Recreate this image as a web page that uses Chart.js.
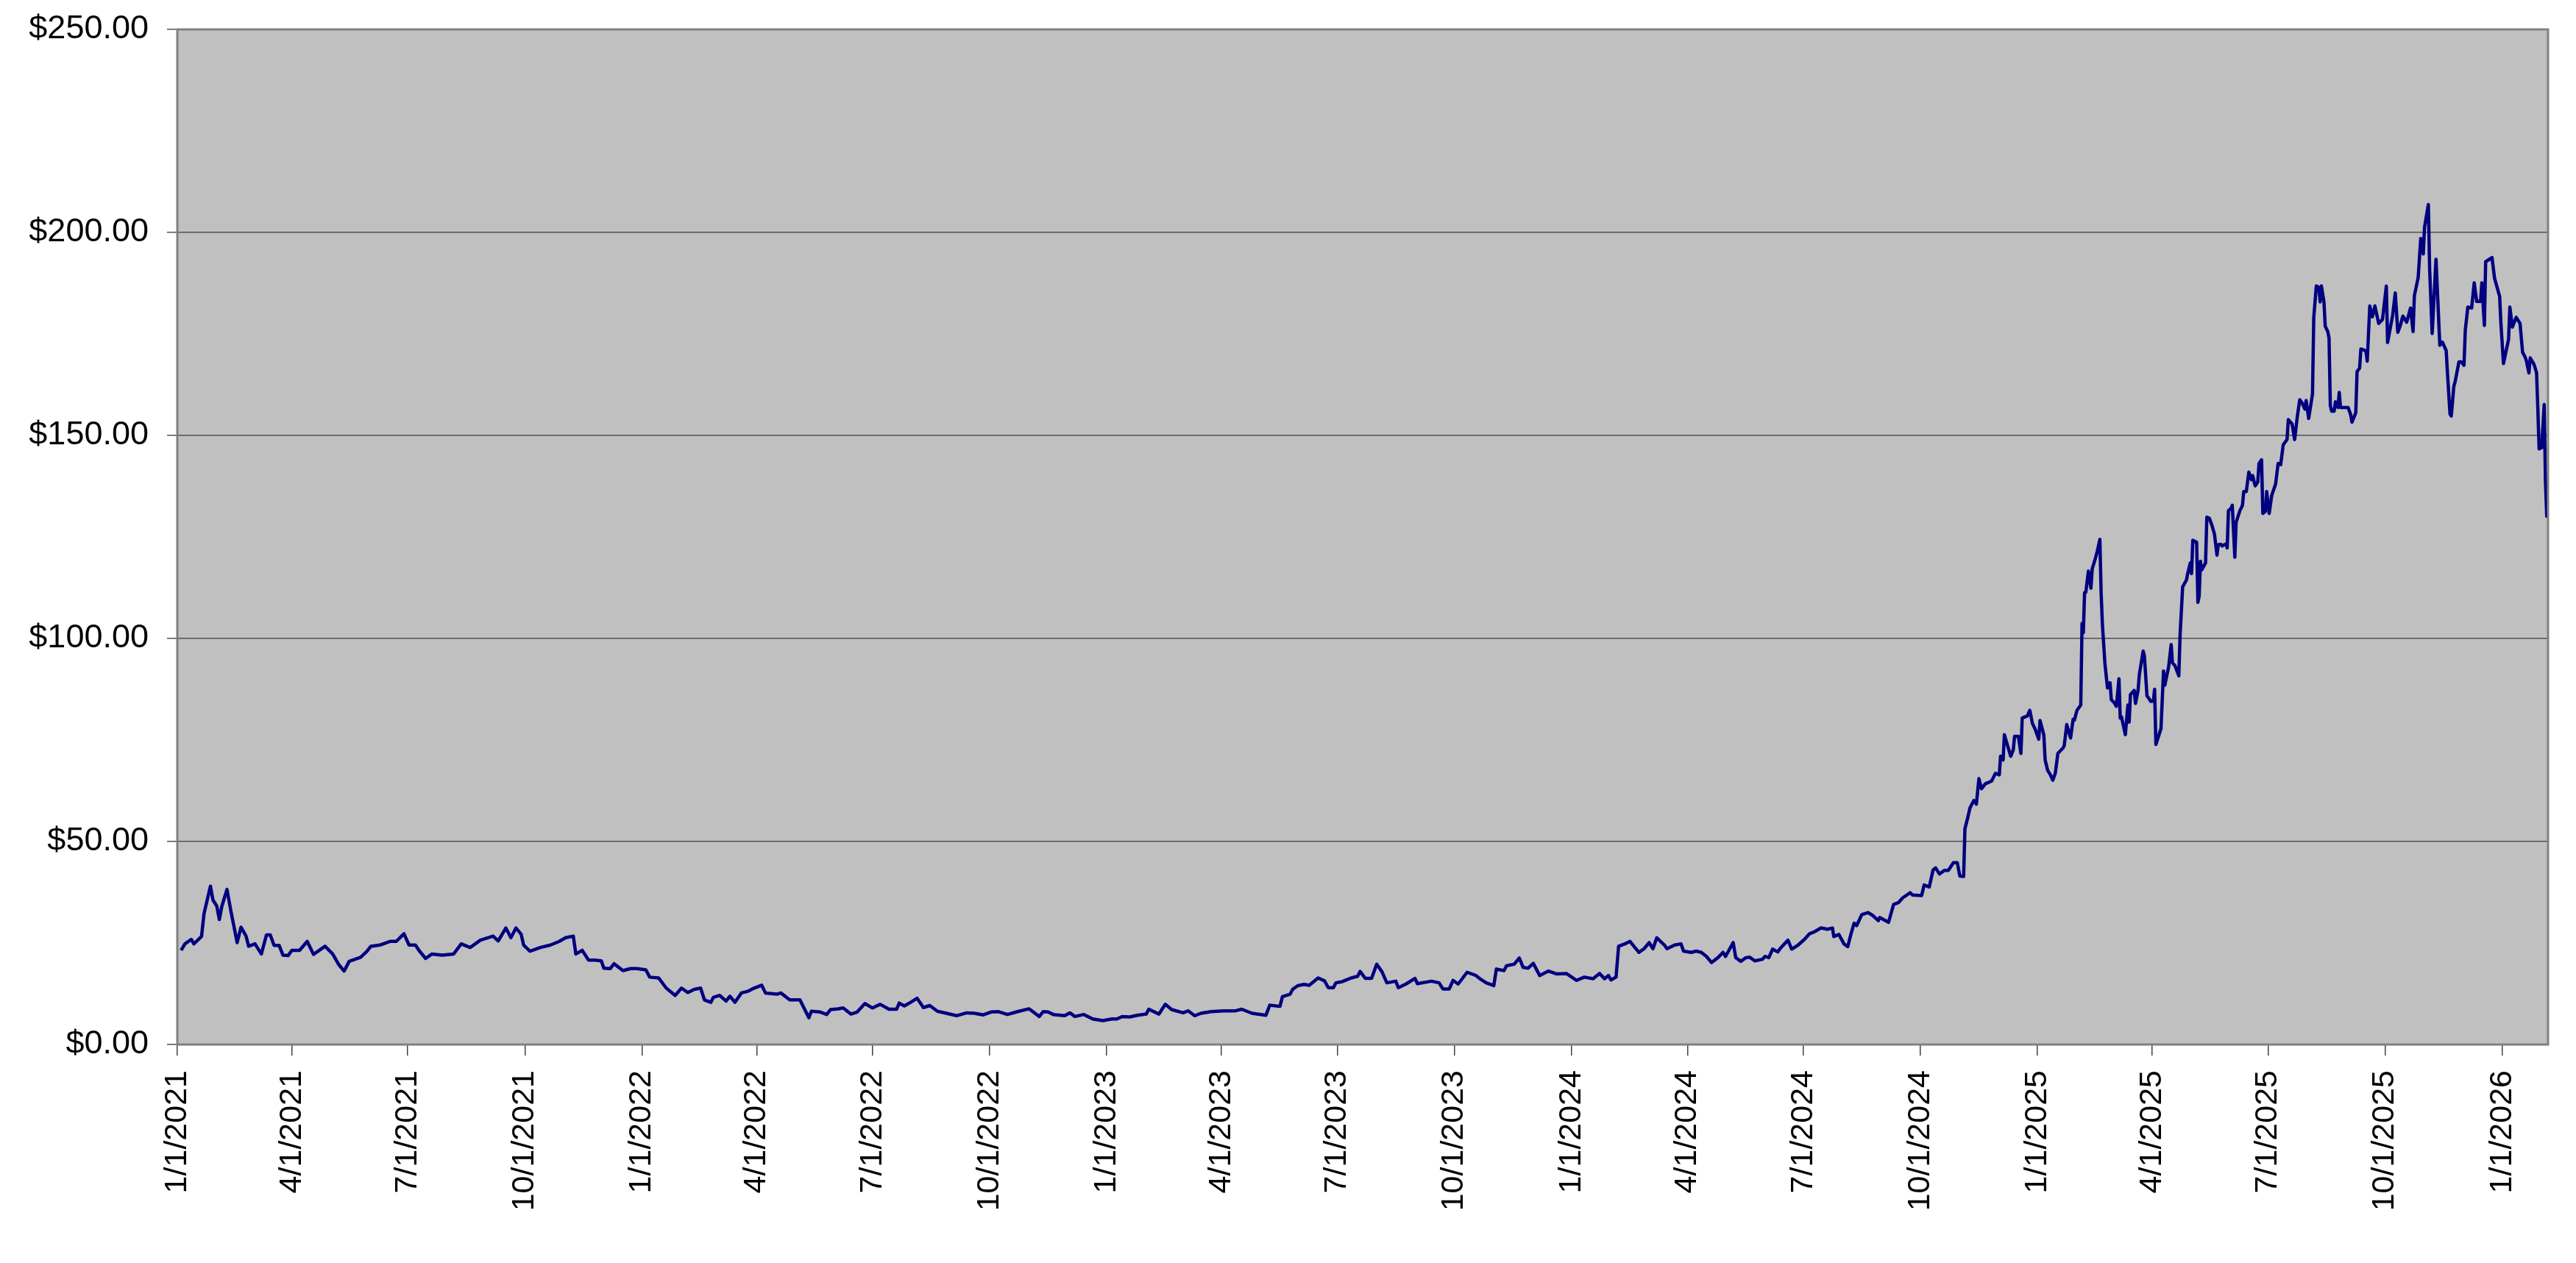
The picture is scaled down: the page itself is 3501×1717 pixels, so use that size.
<!DOCTYPE html>
<html>
<head>
    <meta charset="UTF-8">
    <title>Share price 2021 - 2026</title>
    <style>
        body {
            margin: 0;
            background-color: white;
        }

        #chartBox {
            width: 3501px;
            height: 1717px;
        }
    </style>
    <script src="https://cdn.jsdelivr.net/npm/chart.js"></script>
</head>
<body>
<div id="chartBox">
    <canvas id="priceChart"></canvas>
</div>
<script>
    // days counted from 1/1/2021
    const dayOffsets = [
        3, 6, 11, 13, 19, 21, 26, 28, 31, 33, 35, 39, 42, 47, 50, 54, 56, 61, 66, 70,
        73, 76, 80, 83, 87, 90, 96, 102, 107, 116, 122, 127, 131, 135, 144, 149, 152, 159, 167, 172,
        178, 182, 187, 190, 195, 200, 208, 217, 223, 230, 238, 248, 252, 258, 262, 266, 270, 272, 277, 285,
        293, 300, 305, 311, 313, 318, 323, 328, 333, 335, 340, 343, 350, 356, 361, 368, 371, 378, 384, 391,
        396, 401, 406, 411, 414, 419, 421, 426, 431, 434, 438, 443, 448, 453, 459, 462, 471, 474, 481, 489,
        496, 498, 505, 510, 513, 519, 523, 529, 534, 540, 546, 552, 559, 565, 567, 571, 576, 581, 586, 591,
        597, 604, 612, 620, 626, 633, 639, 645, 652, 660, 669, 677, 680, 684, 688, 697, 701, 705, 712, 719,
        727, 734, 738, 742, 748, 754, 761, 763, 771, 776, 781, 790, 794, 799, 804, 812, 822, 831, 836, 844,
        855, 858, 866, 868, 874, 876, 880, 885, 889, 896, 901, 904, 908, 910, 915, 922, 927, 929, 933, 938,
        942, 946, 950, 957, 959, 965, 972, 974, 985, 991, 994, 999, 1002, 1006, 1013, 1020, 1024, 1028, 1034, 1036,
        1042, 1044, 1050, 1054, 1057, 1061, 1065, 1070, 1077, 1083, 1091, 1099, 1105, 1112, 1117, 1121, 1124, 1126, 1130, 1132,
        1137, 1141, 1144, 1148, 1152, 1156, 1159, 1162, 1168, 1170, 1176, 1181, 1183, 1189, 1193, 1197, 1201, 1205, 1210, 1214,
        1216, 1222, 1224, 1228, 1232, 1235, 1239, 1245, 1247, 1250, 1253, 1257, 1259, 1265, 1268, 1273, 1278, 1282, 1286, 1291,
        1296, 1300, 1301, 1305, 1309, 1312, 1314, 1317, 1319, 1323, 1328, 1332, 1336, 1337, 1344, 1348, 1352, 1355, 1361, 1363,
        1370, 1372, 1376, 1379, 1381, 1384, 1388, 1391, 1395, 1398, 1400, 1403, 1404, 1406, 1408, 1411, 1413, 1415, 1417, 1420,
        1425, 1428, 1431, 1432, 1434, 1435, 1440, 1442, 1443, 1446, 1448, 1449, 1453, 1455, 1457, 1459, 1462, 1463, 1466, 1467,
        1469, 1471, 1473, 1475, 1477, 1481, 1482, 1484, 1487, 1489, 1490, 1492, 1495, 1496, 1497, 1498, 1499, 1501, 1503, 1504,
        1506, 1508, 1510, 1511, 1512, 1514, 1516, 1518, 1519, 1521, 1523, 1525, 1526, 1527, 1530, 1532, 1533, 1534, 1537, 1538,
        1540, 1541, 1544, 1545, 1547, 1550, 1552, 1553, 1554, 1558, 1560, 1561, 1564, 1566, 1567, 1569, 1572, 1573, 1575, 1578,
        1579, 1581, 1582, 1583, 1586, 1587, 1588, 1589, 1590, 1593, 1594, 1596, 1598, 1600, 1602, 1603, 1605, 1606, 1609, 1610,
        1611, 1613, 1614, 1616, 1617, 1620, 1622, 1623, 1625, 1627, 1629, 1630, 1632, 1634, 1635, 1637, 1638, 1640, 1641, 1643,
        1645, 1648, 1650, 1652, 1654, 1657, 1658, 1661, 1663, 1665, 1667, 1669, 1671, 1672, 1674, 1677, 1678, 1680, 1682, 1683,
        1684, 1686, 1687, 1689, 1690, 1691, 1692, 1694, 1695, 1697, 1698, 1699, 1701, 1705, 1707, 1708, 1711, 1712, 1714, 1715,
        1717, 1719, 1720, 1722, 1724, 1726, 1729, 1732, 1735, 1736, 1740, 1742, 1744, 1746, 1748, 1751, 1754, 1756, 1757, 1760,
        1762, 1764, 1765, 1768, 1769, 1771, 1774, 1777, 1779, 1782, 1783, 1785, 1786, 1788, 1789, 1792, 1794, 1796, 1797, 1799,
        1802, 1804, 1806, 1809, 1810, 1812, 1813, 1818, 1820, 1824, 1825, 1827, 1831, 1832, 1834, 1837, 1840, 1842, 1844, 1845,
        1847, 1848, 1851, 1853, 1854, 1855, 1857, 1859, 1860, 1861, 1862
    ];

    const prices = [
        23.2, 24.8, 25.9, 24.8, 26.6, 32.3, 39.0, 35.6, 34.1, 30.8, 34.1, 38.2, 33.0, 25.1, 28.9, 26.7, 24.2, 24.8, 22.3, 27.0,
        27.0, 24.4, 24.4, 22.0, 21.9, 23.2, 23.2, 25.4, 22.2, 24.2, 22.3, 19.6, 18.1, 20.5, 21.5, 23.0, 24.2, 24.5, 25.4, 25.4,
        27.3, 24.5, 24.5, 23.1, 21.2, 22.3, 22.0, 22.3, 24.8, 23.9, 25.7, 26.7, 25.5, 28.7, 26.3, 28.7, 27.2, 24.5, 23.0, 23.9,
        24.5, 25.4, 26.3, 26.7, 22.3, 23.2, 20.8, 20.8, 20.6, 18.8, 18.7, 19.9, 18.2, 18.7, 18.7, 18.4, 16.6, 16.4, 13.9, 12.1,
        13.9, 12.8, 13.6, 13.9, 11.0, 10.4, 11.6, 12.1, 10.7, 11.9, 10.4, 12.7, 13.1, 13.9, 14.6, 12.7, 12.4, 12.7, 11.0, 11.0,
        6.6, 8.2, 8.0, 7.4, 8.6, 8.8, 9.0, 7.5, 8.0, 10.1, 9.0, 9.9, 8.7, 8.7, 10.2, 9.5, 10.4, 11.4, 9.1, 9.6,
        8.2, 7.7, 7.1, 7.8, 7.7, 7.3, 8.0, 8.1, 7.4, 8.1, 8.8, 6.9, 8.1, 8.0, 7.4, 7.1, 7.8, 6.9, 7.4, 6.3,
        5.9, 6.3, 6.3, 6.9, 6.8, 7.2, 7.5, 8.7, 7.5, 9.9, 8.6, 7.8, 8.3, 7.1, 7.7, 8.1, 8.3, 8.3, 8.7, 7.7,
        7.2, 9.7, 9.4, 11.8, 12.4, 13.6, 14.5, 14.8, 14.6, 16.4, 15.7, 14.0, 14.0, 15.2, 15.5, 16.4, 16.8, 18.0, 16.3, 16.3,
        19.8, 18.0, 15.2, 15.6, 14.0, 14.9, 16.3, 15.0, 15.6, 15.2, 13.7, 13.7, 15.8, 14.9, 17.8, 17.0, 16.0, 15.2, 14.5, 18.6,
        18.2, 19.4, 19.8, 21.3, 19.0, 18.8, 20.0, 17.0, 18.1, 17.4, 17.5, 15.8, 16.6, 16.2, 17.5, 16.2, 17.0, 15.9, 16.6, 24.2,
        24.8, 25.4, 24.2, 22.7, 23.6, 25.1, 23.6, 26.3, 24.5, 23.6, 24.5, 24.8, 23.0, 22.7, 23.0, 22.7, 21.7, 20.2, 21.4, 22.7,
        21.7, 25.1, 21.4, 20.5, 21.4, 21.5, 20.6, 21.0, 21.7, 21.4, 23.5, 22.8, 23.7, 25.7, 23.5, 24.5, 25.9, 27.3, 27.8, 28.7,
        28.4, 28.7, 26.6, 27.1, 24.8, 24.1, 26.6, 29.9, 29.3, 32.0, 32.5, 31.7, 30.5, 31.3, 30.1, 34.5, 35.0, 36.1, 37.4, 36.8,
        36.7, 39.3, 38.8, 43.0, 43.5, 42.0, 42.9, 42.9, 44.8, 44.8, 41.5, 41.4, 53.1, 55.6, 58.3, 60.1, 59.2, 65.5, 63.0, 64.2,
        64.9, 66.8, 66.4, 71.0, 70.1, 76.3, 71.0, 72.6, 75.9, 75.9, 71.7, 80.4, 80.9, 82.3, 79.1, 77.8, 75.2, 79.8, 76.2, 70.1,
        67.5, 66.5, 65.1, 66.8, 71.7, 73.0, 73.6, 78.8, 75.5, 80.1, 79.9, 82.3, 83.6, 103.7, 101.4, 111.3, 111.4, 116.6, 112.4, 117.2,
        119.2, 121.5, 124.4, 111.1, 103.4, 93.7, 87.8, 89.1, 84.9, 84.3, 83.3, 90.1, 80.4, 80.7, 76.3, 83.6, 79.4, 86.2, 87.2, 84.0,
        87.2, 91.1, 96.9, 95.6, 85.9, 84.5, 84.6, 87.5, 73.9, 77.8, 92.0, 88.5, 93.0, 98.5, 94.0, 93.3, 90.8, 100.8, 112.7, 114.4,
        116.0, 118.6, 116.0, 124.2, 123.7, 108.9, 110.5, 119.0, 116.9, 118.6, 129.9, 129.6, 127.9, 125.7, 120.5, 123.1, 123.2, 122.8, 123.3, 122.3,
        131.5, 132.0, 132.8, 120.0, 128.6, 131.5, 132.8, 136.2, 136.2, 141.0, 139.1, 140.1, 137.6, 138.5, 143.1, 144.0, 130.8, 131.3, 136.2, 130.8,
        135.3, 138.0, 143.1, 142.8, 147.7, 149.0, 153.9, 152.8, 149.0, 154.5, 158.8, 157.9, 156.5, 158.6, 154.2, 160.2, 179.1, 186.8, 186.5, 182.9,
        186.8, 182.9, 176.9, 175.6, 174.0, 157.4, 156.0, 156.0, 158.3, 156.9, 160.6, 156.9, 156.9, 156.9, 155.1, 153.3, 155.6, 165.7, 166.6, 171.3,
        171.1, 170.8, 168.3, 181.9, 179.2, 181.9, 177.6, 178.6, 186.8, 172.9, 179.7, 185.1, 175.4, 177.1, 179.4, 177.9, 181.4, 175.6, 184.4, 188.9,
        198.5, 194.7, 201.3, 206.9, 191.0, 175.1, 193.4, 172.2, 173.0, 170.9, 165.4, 155.3, 154.8, 162.1, 163.2, 168.1, 168.1, 167.3, 175.9, 181.6,
        181.4, 187.6, 183.0, 183.0, 187.6, 177.1, 192.8, 193.8, 188.7, 184.2, 177.5, 167.7, 173.7, 181.6, 176.7, 179.1, 177.6, 170.5, 169.3, 168.4,
        165.4, 169.1, 167.5, 165.4, 156.4, 146.7, 147.0, 157.6, 138.4, 130.1, 135.8
    ];

    const quarterLabels = [
        '1/1/2021', '4/1/2021', '7/1/2021', '10/1/2021',
        '1/1/2022', '4/1/2022', '7/1/2022', '10/1/2022',
        '1/1/2023', '4/1/2023', '7/1/2023', '10/1/2023',
        '1/1/2024', '4/1/2024', '7/1/2024', '10/1/2024',
        '1/1/2025', '4/1/2025', '7/1/2025', '10/1/2025',
        '1/1/2026'
    ];

    const lastDay = 1862;   // axis runs to early Feb 2026

    const startUtc = Date.UTC(2021, 0, 1);

    function dayOf(label) {
        let parts = label.split('/').map(Number);
        return Math.round((Date.UTC(parts[2], parts[0] - 1, parts[1]) - startUtc) / 86400000);
    }

    const quarterDays = quarterLabels.map(dayOf);

    // grey plot area with a frame, like the old spreadsheet charts
    const plotFrame = {
        id: 'plotFrame',
        beforeDraw(chart) {
            const a = chart.chartArea;
            const ctx = chart.ctx;
            ctx.save();
            ctx.fillStyle = '#c0c0c0';
            ctx.fillRect(a.left, a.top, a.right - a.left, a.bottom - a.top);
            ctx.restore();
        },
        afterDraw(chart) {
            const a = chart.chartArea;
            const ctx = chart.ctx;
            ctx.save();
            ctx.strokeStyle = '#808080';
            ctx.lineWidth = 3;
            ctx.strokeRect(a.left, a.top, a.right - a.left, a.bottom - a.top);
            ctx.restore();
        }
    };

    const points = dayOffsets.map(function (d, i) {
        return { x: d, y: prices[i] };
    });

    const config = {
        type: 'line',
        data: {
            datasets: [{
                label: 'Price',
                data: points,
                borderColor: '#000080',
                borderWidth: 4.5,
                borderJoinStyle: 'round',
                pointRadius: 0,
                tension: 0,
                fill: false
            }]
        },
        options: {
            responsive: true,
            maintainAspectRatio: false,
            animation: false,
            layout: {
                padding: { top: 40, right: 38, left: 0, bottom: 0 }
            },
            plugins: {
                legend: { display: false },
                tooltip: { enabled: false }
            },
            scales: {
                x: {
                    type: 'linear',
                    min: 0,
                    max: lastDay,
                    border: { display: false },
                    grid: {
                        drawOnChartArea: false,
                        drawTicks: true,
                        tickLength: 15,
                        color: '#404040',
                        lineWidth: 1.5
                    },
                    afterBuildTicks: function (scale) {
                        scale.ticks = quarterDays.map(function (d) { return { value: d }; });
                    },
                    afterFit: function (scale) {
                        scale.height = 1717 - 1420;
                        scale.paddingLeft = 0;
                        scale.paddingRight = 0;
                    },
                    ticks: {
                        autoSkip: false,
                        maxRotation: 90,
                        minRotation: 90,
                        padding: 20,
                        color: '#000',
                        font: { family: "'Liberation Sans', Arial", size: 43 },
                        callback: function (value, index) {
                            return quarterLabels[index];
                        }
                    }
                },
                y: {
                    min: 0,
                    max: 250,
                    border: { display: false },
                    grid: {
                        color: '#505050',
                        lineWidth: 1.5,
                        tickLength: 14
                    },
                    afterFit: function (scale) {
                        scale.width = 241;
                        scale.paddingTop = 0;
                        scale.paddingBottom = 0;
                    },
                    ticks: {
                        stepSize: 50,
                        padding: 25,
                        color: '#000',
                        font: { family: "'Liberation Sans', Arial", size: 45 },
                        callback: function (value) {
                            return '$' + value.toFixed(2);
                        }
                    }
                }
            }
        },
        plugins: [plotFrame]
    };

    new Chart(document.getElementById('priceChart'), config);
</script>
</body>
</html>
